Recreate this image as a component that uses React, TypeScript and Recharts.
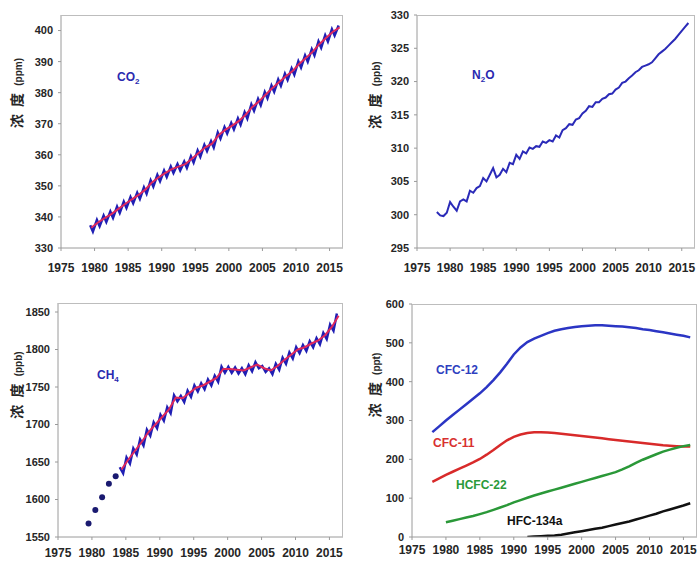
import React from 'react';
import { LineChart, Line, XAxis, YAxis } from 'recharts';

// shared x axis (years)
const yearTicks = [1975, 1980, 1985, 1990, 1995, 2000, 2005, 2010, 2015];
const X_DOMAIN: [number, number] = [1975, 2017];

// CO2 (ppm), one value per year 1979-2016
const co2Start = 1979;
const co2Mean = [336.5, 338.2, 339.6, 340.9, 342.5, 344.1, 345.6, 347.0, 348.7, 351.0, 352.7, 354.1, 355.4, 356.2, 357.0, 358.7, 360.6, 362.4, 363.6, 366.4, 368.1, 369.4, 370.9, 372.9, 375.4, 377.2, 379.4, 381.5, 383.4, 385.3, 387.0, 389.3, 391.2, 393.2, 395.7, 397.7, 399.6, 401.0];
const co2Peak = [337.3, 339.0, 340.4, 341.7, 343.3, 344.9, 346.4, 347.8, 349.5, 351.8, 353.5, 354.9, 356.2, 357.0, 357.8, 359.5, 361.4, 363.2, 364.4, 367.2, 368.9, 370.2, 371.7, 373.7, 376.2, 378.0, 380.2, 382.3, 384.2, 386.1, 387.8, 390.1, 392.0, 394.0, 396.5, 398.5, 400.4, 401.6];
const co2Trough = [335.3, 337.0, 338.4, 339.7, 341.3, 342.9, 344.4, 345.8, 347.5, 349.8, 351.5, 352.9, 354.2, 355.0, 355.8, 357.5, 359.4, 361.2, 362.4, 365.2, 366.9, 368.2, 369.7, 371.7, 374.2, 376.0, 378.2, 380.3, 382.2, 384.1, 385.8, 388.1, 390.0, 392.0, 394.5, 396.5, 398.4, null];
const co2Ticks = [330, 340, 350, 360, 370, 380, 390, 400];

// N2O (ppb), half-year steps 1978.0-2016.0
const n2oStart = 1978;
const n2oValues = [
  300.4, 299.9, 299.8, 300.3, 301.9, 301.2, 300.6, 302.0, 302.3, 302.0, 303.6, 303.3,
  304.0, 304.3, 305.5, 305.0, 306.0, 307.0, 305.6, 306.0, 306.9, 306.4, 307.8, 307.6,
  309.0, 308.4, 309.5, 309.2, 310.1, 309.9, 310.3, 310.2, 311.0, 310.8, 311.2, 311.0,
  311.9, 311.6, 312.7, 313.0, 313.6, 313.5, 314.3, 314.5, 315.2, 315.6, 316.3, 316.2,
  316.9, 316.9, 317.4, 317.6, 318.1, 318.2, 318.8, 319.1, 319.8, 320.0, 320.5, 320.9,
  321.4, 321.7, 322.2, 322.4, 322.6, 322.9, 323.5, 324.1, 324.5, 324.9, 325.4, 325.9,
  326.4, 327.0, 327.6, 328.2, 328.8,
];
const n2oTicks = [295, 300, 305, 310, 315, 320, 325, 330];

// CH4 (ppb): early annual points, then seasonal record 1984-2016
const ch4EarlyYears = [1979.5, 1980.5, 1981.5, 1982.5, 1983.5];
const ch4EarlyValues = [1568, 1586, 1603, 1621, 1631];
const ch4Start = 1984;
const ch4Mean = [1640, 1653, 1665, 1677, 1690, 1700, 1710, 1720, 1736, 1735, 1742, 1749, 1752, 1757, 1762, 1774, 1774, 1773, 1772, 1776, 1780, 1775, 1772, 1778, 1786, 1793, 1800, 1803, 1808, 1812, 1819, 1830, 1845];
const ch4Peak = [1643, 1656, 1668, 1680, 1693, 1703, 1713, 1723, 1739, 1738, 1745, 1752, 1755, 1760, 1765, 1777, 1777, 1776, 1775, 1779, 1783, 1778, 1775, 1781, 1789, 1796, 1803, 1806, 1811, 1815, 1822, 1833, 1848];
const ch4Trough = [1635, 1648, 1660, 1672, 1685, 1695, 1705, 1715, 1731, 1730, 1737, 1744, 1747, 1752, 1757, 1769, 1769, 1768, 1767, 1771, 1775, 1770, 1767, 1773, 1781, 1788, 1795, 1798, 1803, 1807, 1814, 1825, null];
const ch4Ticks = [1550, 1600, 1650, 1700, 1750, 1800, 1850];

// halocarbons (ppt), annual 1978-2016
const cfcStart = 1978;
const cfc12 = [270, 285, 300, 314, 328, 342, 356, 370, 386, 404, 424, 446, 470, 488, 502, 511, 518, 525, 531, 535, 538, 541, 543, 544, 545, 545, 544, 543, 542, 540, 538, 535, 533, 530, 527, 524, 521, 518, 514];
const cfc11 = [142, 151, 160, 168, 176, 184, 192, 201, 212, 224, 237, 249, 258, 264, 268, 270, 270, 269, 268, 266, 264, 262, 260, 258, 256, 254, 252, 250, 248, 246, 244, 242, 240, 238, 236, 235, 234, 233, 233];
const hcfc22 = [null, null, 38, 42, 46, 50, 54, 59, 64, 70, 76, 82, 89, 95, 101, 107, 112, 117, 122, 127, 132, 137, 142, 147, 152, 157, 162, 167, 174, 182, 191, 199, 206, 213, 220, 225, 230, 234, 237];
const hfc134a = [null, null, null, null, null, null, null, null, null, null, null, null, null, null, 0, 1, 2, 3, 4, 6, 9, 12, 15, 18, 21, 24, 28, 32, 36, 40, 45, 50, 55, 60, 66, 71, 76, 81, 87];
const cfcTicks = [0, 100, 200, 300, 400, 500, 600];

type Row = { x: number; v: number | null };

const seasonal = (start: number, hi: (number | null)[], lo: (number | null)[], hiAt: number, loAt: number): Row[] =>
  hi.flatMap((h, i) => [
    { x: start + i + hiAt, v: h },
    { x: start + i + loAt, v: lo[i] },
  ]).filter((r) => r.v != null);

const annual = (start: number, vals: (number | null)[], at = 0): Row[] =>
  vals.map((v, i) => ({ x: start + i + at, v })).filter((r) => r.v != null);

const co2Season = seasonal(co2Start, co2Peak, co2Trough, 0.35, 0.75);
const co2Trend = annual(co2Start, co2Mean, 0.5);
const n2oRows = n2oValues.map((v, i) => ({ x: n2oStart + i * 0.5, v }));
const ch4Season = seasonal(ch4Start, ch4Peak, ch4Trough, 0.1, 0.6);
const ch4Trend = annual(ch4Start, ch4Mean, 0.35);
const ch4Dots = ch4EarlyYears.map((x, i) => ({ x, v: ch4EarlyValues[i] }));
const cfc12Rows = annual(cfcStart, cfc12);
const cfc11Rows = annual(cfcStart, cfc11);
const hcfc22Rows = annual(cfcStart, hcfc22);
const hfcRows = annual(cfcStart, hfc134a);

const FONT = '"Liberation Sans", Arial, sans-serif';
const AXIS = '#9a9a9a';
const FRAME = '#bdbdbd';
const BLUE = '#1f1fb4';
const RED = '#e0285c';

const axes = (
  yDomain: [number, number],
  yTicks: number[],
  yWidth: number,
  xHeight: number,
  xGap: number
) => [
  <XAxis
    key="x"
    type="number"
    dataKey="x"
    domain={X_DOMAIN}
    ticks={yearTicks}
    allowDataOverflow
    height={xHeight}
    tickSize={3}
    tickMargin={xGap}
    tickLine={{ stroke: AXIS }}
    axisLine={{ stroke: AXIS }}
    tick={{ fontFamily: FONT, fontWeight: 700, fontSize: 12, fill: '#262626' }}
  />,
  <YAxis
    key="y"
    type="number"
    domain={yDomain}
    ticks={yTicks}
    allowDataOverflow
    width={yWidth}
    tickSize={3}
    tickMargin={5}
    tickLine={{ stroke: AXIS }}
    axisLine={{ stroke: AXIS }}
    tick={{ fontFamily: FONT, fontWeight: 700, fontSize: 11, fill: '#262626' }}
  />,
];

// top and right edge of a plot box (the left/bottom edges are the axes)
const Frame = ({ left, top, width, height }: { left: number; top: number; width: number; height: number }) => (
  <div
    style={{
      position: 'absolute',
      left,
      top,
      width,
      height,
      borderTop: `1px solid ${FRAME}`,
      borderRight: `1px solid ${FRAME}`,
      boxSizing: 'border-box',
      pointerEvents: 'none',
    }}
  />
);

const YLabel = ({ cx, cy, unit }: { cx: number; cy: number; unit: string }) => (
  <div
    style={{
      position: 'absolute',
      left: cx,
      top: cy,
      transform: 'translate(-50%, -50%) rotate(-90deg)',
      whiteSpace: 'nowrap',
      color: '#262626',
      fontWeight: 700,
      lineHeight: 1,
    }}
  >
    <span style={{ fontFamily: '"Noto Sans CJK SC", sans-serif', fontSize: 14, letterSpacing: 2 }}>浓 度 </span>
    <span style={{ fontFamily: FONT, fontSize: 10 }}>({unit})</span>
  </div>
);

const Tag = ({ x, y, color, children }: { x: number; y: number; color: string; children: React.ReactNode }) => (
  <div
    style={{
      position: 'absolute',
      left: x,
      top: y,
      transform: 'translateY(-50%)',
      color,
      fontFamily: FONT,
      fontWeight: 700,
      fontSize: 12,
      lineHeight: 1,
      whiteSpace: 'nowrap',
    }}
  >
    {children}
  </div>
);

const sub = (t: string) => <span style={{ fontSize: 8, position: 'relative', top: 3 }}>{t}</span>;

export default function App() {
  return (
    <div style={{ position: 'absolute', left: 0, top: 0, width: 697, height: 563, background: '#fff', overflow: 'hidden' }}>
      {/* CO2 */}
      <div style={{ position: 'absolute', left: 0, top: 0 }}>
        <LineChart width={348} height={280} margin={{ top: 15, right: 5, bottom: 0, left: 0 }}>
          {axes([330, 405], co2Ticks, 61, 32, 12)}
          <Line data={co2Season} dataKey="v" stroke={BLUE} strokeWidth={2.5} dot={false} isAnimationActive={false} />
          <Line data={co2Trend} dataKey="v" stroke={RED} strokeWidth={2} dot={false} isAnimationActive={false} />
        </LineChart>
      </div>

      {/* N2O */}
      <div style={{ position: 'absolute', left: 352, top: 0 }}>
        <LineChart width={345} height={280} margin={{ top: 15, right: 2, bottom: 0, left: 0 }}>
          {axes([295, 330], n2oTicks, 65, 32, 12)}
          <Line data={n2oRows} dataKey="v" stroke="#2a2ab8" strokeWidth={2} dot={false} isAnimationActive={false} />
        </LineChart>
      </div>

      {/* CH4 */}
      <div style={{ position: 'absolute', left: 0, top: 280 }}>
        <LineChart width={348} height={283} margin={{ top: 23, right: 5, bottom: 0, left: 0 }}>
          {axes([1550, 1862], ch4Ticks, 58, 26, 8)}
          <Line data={ch4Season} dataKey="v" stroke={BLUE} strokeWidth={2.5} dot={false} isAnimationActive={false} />
          <Line data={ch4Trend} dataKey="v" stroke={RED} strokeWidth={2} dot={false} isAnimationActive={false} />
          <Line
            data={ch4Dots}
            dataKey="v"
            stroke="none"
            dot={{ r: 3, fill: '#1a1a70', stroke: 'none' }}
            isAnimationActive={false}
          />
        </LineChart>
      </div>

      {/* halocarbons */}
      <div style={{ position: 'absolute', left: 352, top: 280 }}>
        <LineChart width={345} height={283} margin={{ top: 24, right: 0, bottom: 0, left: 0 }}>
          {axes([0, 600], cfcTicks, 60, 26, 5)}
          <Line data={cfc12Rows} dataKey="v" stroke="#2b35c4" strokeWidth={2.5} dot={false} isAnimationActive={false} />
          <Line data={cfc11Rows} dataKey="v" stroke="#d82a2a" strokeWidth={2.5} dot={false} isAnimationActive={false} />
          <Line data={hcfc22Rows} dataKey="v" stroke="#2a9838" strokeWidth={2.5} dot={false} isAnimationActive={false} />
          <Line data={hfcRows} dataKey="v" stroke="#111111" strokeWidth={2.5} dot={false} isAnimationActive={false} />
        </LineChart>
      </div>

      <Frame left={61} top={15} width={282} height={233} />
      <Frame left={417} top={15} width={278} height={233} />
      <Frame left={58} top={303} width={285} height={234} />
      <Frame left={412} top={304} width={285} height={233} />

      <YLabel cx={17} cy={93} unit="ppm" />
      <YLabel cx={375} cy={95} unit="ppb" />
      <YLabel cx={17} cy={385} unit="ppb" />
      <YLabel cx={375} cy={385} unit="ppt" />

      <Tag x={117} y={77} color="#2a2ab0">CO{sub('2')}</Tag>
      <Tag x={472} y={75} color="#2a2ab0">N{sub('2')}O</Tag>
      <Tag x={97} y={375} color="#2a2ab0">CH{sub('4')}</Tag>
      <Tag x={436} y={370} color="#2f3fc0">CFC-12</Tag>
      <Tag x={433} y={443} color="#d83030">CFC-11</Tag>
      <Tag x={456} y={485} color="#2a9a3a">HCFC-22</Tag>
      <Tag x={507} y={521} color="#111111">HFC-134a</Tag>
    </div>
  );
}
